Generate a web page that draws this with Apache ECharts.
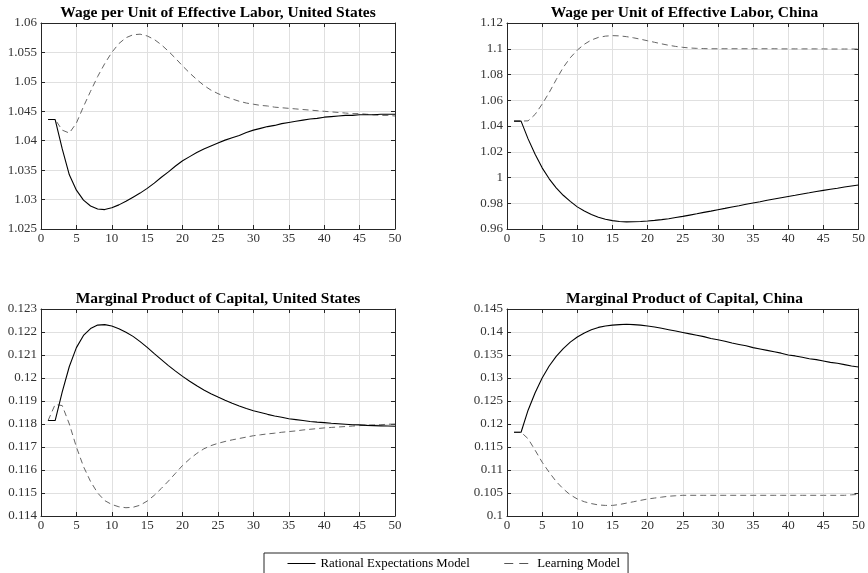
<!DOCTYPE html>
<html>
<head>
<meta charset="utf-8">
<title>Impulse responses: wages and marginal product of capital</title>
<script src="https://cdn.jsdelivr.net/npm/echarts@6/dist/echarts.min.js"></script>
<style>
  html, body { margin: 0; padding: 0; background: #fff; }
  #chart { width: 868px; height: 573px; }
</style>
</head>
<body>
<div id="chart"></div>
<script>
// Time periods after the shock
const periods = [1, 2, 3, 4, 5, 6, 7, 8, 9, 10, 11, 12, 13, 14, 15, 16, 17, 18, 19, 20,
  21, 22, 23, 24, 25, 26, 27, 28, 29, 30, 31, 32, 33, 34, 35, 36, 37, 38, 39, 40,
  41, 42, 43, 44, 45, 46, 47, 48, 49, 50];

// Wage per unit of effective labor, United States
const usWageRational = [1.0436, 1.0436, 1.0386, 1.0342, 1.0316, 1.0299, 1.0289, 1.0284, 1.0283, 1.0286,
  1.0291, 1.0297, 1.0304, 1.0311, 1.0319, 1.0328, 1.0338, 1.0347, 1.0357, 1.0366,
  1.0373, 1.0380, 1.0386, 1.0391, 1.0396, 1.0401, 1.0405, 1.0409, 1.0414, 1.0418,
  1.0421, 1.0424, 1.0426, 1.0429, 1.0431, 1.0433, 1.0435, 1.0437, 1.0438, 1.0440,
  1.0441, 1.0442, 1.0443, 1.0443, 1.0444, 1.0444, 1.0444, 1.0445, 1.0445, 1.0445];
const usWageLearning = [1.0436, 1.0436, 1.0418, 1.0413, 1.0430, 1.0458, 1.0484, 1.0509, 1.0531, 1.0550,
  1.0565, 1.0575, 1.0580, 1.0581, 1.0578, 1.0572, 1.0563, 1.0552, 1.0540, 1.0527,
  1.0515, 1.0504, 1.0494, 1.0486, 1.0480, 1.0475, 1.0471, 1.0467, 1.0464, 1.0462,
  1.0460, 1.0459, 1.0457, 1.0456, 1.0455, 1.0454, 1.0453, 1.0452, 1.0451, 1.0450,
  1.0449, 1.0448, 1.0447, 1.0446, 1.0446, 1.0445, 1.0444, 1.0443, 1.0443, 1.0442];

// Wage per unit of effective labor, China
const cnWageRational = [1.0438, 1.0438, 1.0300, 1.0180, 1.0075, 0.9990, 0.9920, 0.9862, 0.9815, 0.9772,
  0.9740, 0.9713, 0.9692, 0.9676, 0.9665, 0.9658, 0.9655, 0.9656, 0.9658, 0.9662,
  0.9667, 0.9673, 0.9680, 0.9689, 0.9698, 0.9708, 0.9718, 0.9729, 0.9739, 0.9750,
  0.9760, 0.9771, 0.9781, 0.9792, 0.9802, 0.9812, 0.9823, 0.9833, 0.9843, 0.9853,
  0.9862, 0.9872, 0.9881, 0.9891, 0.9900, 0.9909, 0.9917, 0.9926, 0.9934, 0.9942];
const cnWageLearning = [1.0438, 1.0438, 1.0440, 1.0490, 1.0570, 1.0660, 1.0760, 1.0855, 1.0930, 1.0990,
  1.1035, 1.1068, 1.1088, 1.1098, 1.1102, 1.1100, 1.1094, 1.1085, 1.1074, 1.1062,
  1.1050, 1.1038, 1.1027, 1.1018, 1.1011, 1.1006, 1.1003, 1.1001, 1.1000, 1.1000,
  1.1000, 1.1000, 1.1000, 1.1000, 1.1000, 1.1000, 1.1000, 1.1000, 1.0999, 1.0999,
  1.0999, 1.0999, 1.0999, 1.0999, 1.0999, 1.0998, 1.0998, 1.0998, 1.0998, 1.0998];

// Marginal product of capital, United States
const usMpkRational = [0.11815, 0.11815, 0.11940, 0.12050, 0.12132, 0.12185, 0.12215, 0.12230, 0.12232, 0.12226,
  0.12214, 0.12199, 0.12181, 0.12158, 0.12133, 0.12106, 0.12080, 0.12054, 0.12030, 0.12007,
  0.11986, 0.11966, 0.11948, 0.11932, 0.11917, 0.11903, 0.11890, 0.11878, 0.11867, 0.11858,
  0.11850, 0.11842, 0.11835, 0.11829, 0.11823, 0.11819, 0.11815, 0.11811, 0.11808, 0.11806,
  0.11803, 0.11801, 0.11799, 0.11797, 0.11796, 0.11794, 0.11793, 0.11792, 0.11791, 0.11790];
const usMpkLearning = [0.11815, 0.11885, 0.11880, 0.11800, 0.11700, 0.11615, 0.11550, 0.11500, 0.11467, 0.11450,
  0.11440, 0.11436, 0.11438, 0.11447, 0.11465, 0.11490, 0.11520, 0.11552, 0.11586, 0.11620,
  0.11648, 0.11672, 0.11692, 0.11706, 0.11716, 0.11724, 0.11731, 0.11737, 0.11743, 0.11749,
  0.11753, 0.11757, 0.11760, 0.11764, 0.11767, 0.11770, 0.11774, 0.11777, 0.11780, 0.11783,
  0.11785, 0.11787, 0.11789, 0.11791, 0.11793, 0.11795, 0.11796, 0.11797, 0.11799, 0.11800];

// Marginal product of capital, China
const cnMpkRational = [0.1182, 0.1182, 0.1230, 0.1268, 0.1300, 0.1326, 0.1347, 0.1364, 0.1378, 0.1389,
  0.1398, 0.1405, 0.1410, 0.1413, 0.1415, 0.1416, 0.1417, 0.1416, 0.1415, 0.1413,
  0.1411, 0.1408, 0.1405, 0.1402, 0.1399, 0.1396, 0.1393, 0.1390, 0.1386, 0.1383,
  0.1380, 0.1376, 0.1373, 0.1370, 0.1366, 0.1363, 0.1360, 0.1357, 0.1354, 0.1350,
  0.1348, 0.1345, 0.1342, 0.1340, 0.1337, 0.1334, 0.1332, 0.1329, 0.1326, 0.1324];
const cnMpkLearning = [0.1182, 0.1182, 0.1168, 0.1143, 0.1117, 0.1095, 0.1075, 0.1059, 0.1046, 0.1037,
  0.1031, 0.1027, 0.1024, 0.1023, 0.1023, 0.1025, 0.1028, 0.1031, 0.1034, 0.1037,
  0.1039, 0.1041, 0.1043, 0.1044, 0.1045, 0.1045, 0.1045, 0.1045, 0.1045, 0.1045,
  0.1045, 0.1045, 0.1045, 0.1045, 0.1045, 0.1045, 0.1045, 0.1045, 0.1045, 0.1045,
  0.1045, 0.1045, 0.1045, 0.1045, 0.1045, 0.1045, 0.1045, 0.1045, 0.1046, 0.1047];

const panelTitles = [
  'Wage per Unit of Effective Labor, United States',
  'Wage per Unit of Effective Labor, China',
  'Marginal Product of Capital, United States',
  'Marginal Product of Capital, China'
];
const modelNames = ['Rational Expectations Model', 'Learning Model'];

// y-axis ranges for each panel: [min, max, step]
const yRanges = [
  [1.025, 1.06, 0.005],
  [0.96, 1.12, 0.02],
  [0.114, 0.123, 0.001],
  [0.1, 0.145, 0.005]
];
const panelSeries = [
  [usWageRational, usWageLearning],
  [cnWageRational, cnWageLearning],
  [usMpkRational, usMpkLearning],
  [cnMpkRational, cnMpkLearning]
];

const FONT = 'Liberation Serif';
const AXIS_COLOR = '#262626';
const TICK_FONT_SIZE = 13;
const grids = [
  { left: 41, top: 23, width: 354, height: 206 },
  { left: 507, top: 23, width: 355, height: 206 },
  { left: 41, top: 309, width: 354, height: 207 },
  { left: 507, top: 309, width: 355, height: 207 }
];

const tickFmt = v => String(parseFloat(v.toFixed(5)));

const xAxes = [];
const yAxes = [];
const series = [];
const titles = [];

grids.forEach((g, i) => {
  const [ymin, ymax, ystep] = yRanges[i];
  const lineCfg = { show: true, onZero: false, lineStyle: { color: AXIS_COLOR, width: 1 } };
  const tickCfg = { show: true, inside: true, length: 4, lineStyle: { color: AXIS_COLOR, width: 1 } };
  const gridLine = { show: true, lineStyle: { color: '#e0e0e0', width: 1 } };
  // bottom + top x axes (the top one only closes the box and carries ticks)
  xAxes.push({
    type: 'value', gridIndex: i, min: 0, max: 50, interval: 5, position: 'bottom',
    axisLine: lineCfg, axisTick: tickCfg,
    axisLabel: { fontFamily: FONT, fontSize: TICK_FONT_SIZE, color: '#333', margin: 3 },
    splitLine: gridLine
  });
  xAxes.push({
    type: 'value', gridIndex: i, min: 0, max: 50, interval: 5, position: 'top',
    axisLine: lineCfg, axisTick: tickCfg, axisLabel: { show: false }, splitLine: { show: false }
  });
  yAxes.push({
    type: 'value', gridIndex: i, min: ymin, max: ymax, interval: ystep, position: 'left',
    axisLine: lineCfg, axisTick: tickCfg,
    axisLabel: { fontFamily: FONT, fontSize: TICK_FONT_SIZE, color: '#333', margin: 4, formatter: tickFmt },
    splitLine: gridLine
  });
  yAxes.push({
    type: 'value', gridIndex: i, min: ymin, max: ymax, interval: ystep, position: 'right',
    axisLine: lineCfg, axisTick: tickCfg, axisLabel: { show: false }, splitLine: { show: false }
  });

  const [rational, learning] = panelSeries[i];
  series.push({
    name: modelNames[0], type: 'line', xAxisIndex: 2 * i, yAxisIndex: 2 * i,
    data: periods.map((p, k) => [p, rational[k]]),
    symbol: 'none', showSymbol: false, smooth: false, z: 3,
    lineStyle: { color: '#000', width: 1.1, type: 'solid' }, itemStyle: { color: '#000' }
  });
  series.push({
    name: modelNames[1], type: 'line', xAxisIndex: 2 * i, yAxisIndex: 2 * i,
    data: periods.map((p, k) => [p, learning[k]]),
    symbol: 'none', showSymbol: false, smooth: false, z: 2,
    lineStyle: { color: '#666', width: 1, type: [6, 4] }, itemStyle: { color: '#666' }
  });

  titles.push({
    text: panelTitles[i],
    left: g.left + g.width / 2,
    top: g.top - 18,
    textAlign: 'center',
    padding: 0,
    textStyle: { fontFamily: FONT, fontSize: 15.5, fontWeight: 'bold', color: '#000' }
  });
});

const chart = echarts.init(document.getElementById('chart'), null, { renderer: 'canvas' });
chart.setOption({
  animation: false,
  backgroundColor: '#fff',
  textStyle: { fontFamily: FONT },
  title: titles,
  grid: grids,
  xAxis: xAxes,
  yAxis: yAxes,
  legend: {
    data: [
      { name: modelNames[0], lineStyle: { color: '#000', width: 1, type: 'solid' } },
      { name: modelNames[1], lineStyle: { color: '#555', width: 1, type: [9, 6] } }
    ],
    left: 264, top: 553,
    orient: 'horizontal',
    padding: [4, 8, 20, 23],
    itemWidth: 28, itemHeight: 12, itemGap: 34,
    itemStyle: { opacity: 0 },
    borderColor: AXIS_COLOR, borderWidth: 1,
    selectedMode: false,
    textStyle: { fontFamily: FONT, fontSize: 12.8, color: '#000' }
  },
  series: series
});
</script>
</body>
</html>
